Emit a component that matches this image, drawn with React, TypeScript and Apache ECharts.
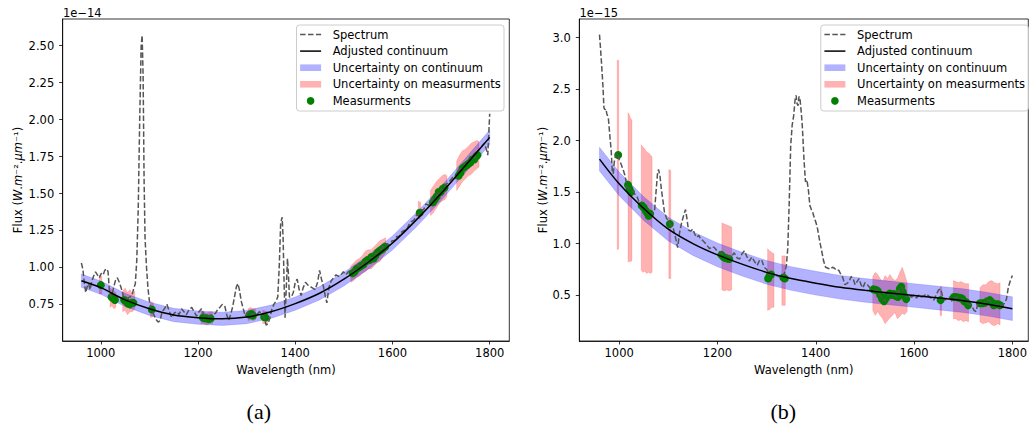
import React, { useEffect, useRef } from "react";
import * as echarts from "echarts";

// ---------- Panel (a) data (flux in units of 1e-14) ----------
const specA: [number, number][] = [
  [960, 1.03], [963, 0.99], [966, 0.9], [969, 0.83], [972, 0.87], [975, 0.89], [978, 0.85], [981, 0.9], [985, 0.94], [989, 0.97],
  [993, 0.95], [997, 0.93], [1001, 0.96], [1005, 0.95], [1008, 0.98], [1012, 0.99], [1015, 0.97], [1018, 0.82], [1022, 0.8], [1026, 0.86],
  [1030, 0.91], [1034, 0.93], [1038, 0.9], [1042, 0.86], [1046, 0.81], [1050, 0.79], [1055, 0.79], [1060, 0.8], [1064, 0.81], [1068, 0.86],
  [1071, 0.89], [1074, 1.05], [1077, 1.4], [1080, 2.0], [1083, 2.5], [1085, 2.57], [1087, 2.3], [1089, 1.6], [1091, 1.2], [1094, 1.0],
  [1097, 0.86], [1100, 0.77], [1104, 0.72], [1108, 0.69], [1113, 0.65], [1118, 0.63], [1122, 0.64], [1126, 0.7], [1131, 0.72], [1136, 0.75],
  [1141, 0.7], [1146, 0.66], [1151, 0.69], [1156, 0.7], [1161, 0.68], [1166, 0.72], [1171, 0.7], [1176, 0.68], [1181, 0.71], [1187, 0.73],
  [1192, 0.7], [1197, 0.67], [1202, 0.7], [1207, 0.72], [1212, 0.68], [1218, 0.66], [1224, 0.67], [1230, 0.68], [1236, 0.69], [1241, 0.72],
  [1245, 0.73], [1250, 0.75], [1255, 0.74], [1259, 0.68], [1263, 0.64], [1267, 0.68], [1271, 0.73], [1275, 0.8], [1279, 0.87], [1282, 0.89],
  [1285, 0.85], [1289, 0.77], [1293, 0.72], [1297, 0.67], [1301, 0.69], [1306, 0.7], [1311, 0.68], [1316, 0.69], [1321, 0.68], [1326, 0.7],
  [1331, 0.69], [1336, 0.66], [1340, 0.61], [1344, 0.62], [1348, 0.66], [1352, 0.72], [1356, 0.75], [1360, 0.77], [1364, 0.8], [1367, 1.0],
  [1370, 1.3], [1373, 1.34], [1375, 1.2], [1377, 0.9], [1379, 0.66], [1382, 0.9], [1384, 1.06], [1386, 0.95], [1388, 0.8], [1392, 0.8],
  [1396, 0.83], [1400, 0.9], [1404, 0.92], [1408, 0.85], [1412, 0.81], [1416, 0.86], [1421, 0.9], [1426, 0.88], [1431, 0.87], [1436, 0.86],
  [1441, 0.85], [1446, 0.9], [1450, 0.98], [1454, 0.92], [1458, 0.87], [1462, 0.8], [1465, 0.76], [1469, 0.86], [1474, 0.91], [1479, 0.93],
  [1484, 0.95], [1489, 0.94], [1494, 0.95], [1499, 0.97], [1504, 0.95], [1509, 0.97], [1514, 0.98], [1519, 0.97], [1524, 0.99], [1529, 1.02],
  [1534, 1.0], [1539, 1.03], [1544, 1.05], [1549, 1.03], [1554, 1.07], [1559, 1.06], [1564, 1.09], [1569, 1.1], [1574, 1.12], [1579, 1.13],
  [1584, 1.15], [1589, 1.16], [1594, 1.15], [1599, 1.18], [1604, 1.18], [1609, 1.21], [1614, 1.21], [1619, 1.24], [1624, 1.25], [1629, 1.25],
  [1634, 1.29], [1639, 1.31], [1644, 1.32], [1649, 1.35], [1654, 1.36], [1659, 1.39], [1664, 1.39], [1669, 1.43], [1674, 1.42], [1679, 1.45],
  [1684, 1.47], [1689, 1.48], [1694, 1.5], [1699, 1.53], [1704, 1.52], [1709, 1.56], [1714, 1.57], [1719, 1.59], [1724, 1.61], [1729, 1.6],
  [1734, 1.64], [1739, 1.67], [1744, 1.66], [1749, 1.7], [1754, 1.71], [1759, 1.73], [1764, 1.75], [1769, 1.74], [1774, 1.78], [1779, 1.8],
  [1784, 1.82], [1789, 1.84], [1793, 1.8], [1796, 1.76], [1798, 1.9], [1800, 2.04],
];

const contWl = [960, 1000, 1050, 1100, 1150, 1200, 1250, 1300, 1350, 1400, 1450, 1500, 1550, 1600, 1650, 1700, 1750, 1800];
const contA = [0.91, 0.863, 0.78, 0.72, 0.678, 0.66, 0.652, 0.664, 0.7, 0.755, 0.825, 0.92, 1.035, 1.165, 1.325, 1.5, 1.69, 1.88];
const contALow = [0.865, 0.818, 0.735, 0.675, 0.633, 0.615, 0.607, 0.619, 0.655, 0.71, 0.78, 0.874, 0.988, 1.117, 1.277, 1.452, 1.642, 1.83];
const contAHigh = [0.955, 0.908, 0.825, 0.765, 0.723, 0.705, 0.697, 0.709, 0.745, 0.8, 0.87, 0.966, 1.082, 1.213, 1.373, 1.548, 1.738, 1.93];

const measA: [number, number][] = [
  [1000, 0.88], [1022, 0.8], [1026, 0.79], [1029, 0.78], [1048, 0.78], [1052, 0.77], [1056, 0.755], [1060, 0.75], [1064, 0.76], [1067, 0.76],
  [1105, 0.715], [1210, 0.66], [1214, 0.655], [1218, 0.655], [1222, 0.65], [1226, 0.655], [1306, 0.68], [1310, 0.685], [1313, 0.675],
  [1336, 0.665], [1339, 0.66], [1518, 0.96], [1522, 0.97], [1526, 0.99], [1531, 1.0], [1535, 1.01], [1540, 1.02], [1545, 1.04], [1549, 1.05],
  [1553, 1.05], [1557, 1.07], [1561, 1.06], [1565, 1.08], [1569, 1.1], [1573, 1.11], [1577, 1.12], [1581, 1.13], [1585, 1.14], [1656, 1.37],
  [1683, 1.44], [1687, 1.46], [1691, 1.48], [1695, 1.51], [1699, 1.51], [1703, 1.53], [1707, 1.54], [1736, 1.62], [1740, 1.64], [1744, 1.67],
  [1748, 1.68], [1752, 1.69], [1756, 1.7], [1760, 1.71], [1764, 1.73], [1768, 1.73], [1772, 1.75], [1775, 1.76],
];

const errAWl = [
  [997, 1002], [1019, 1023, 1027, 1031], [1045, 1050, 1055, 1060, 1065, 1070], [1102, 1108], [1206, 1212, 1218, 1224, 1230],
  [1303, 1308, 1313, 1318], [1333, 1343],
  [1514, 1520, 1526, 1532, 1538, 1544, 1550, 1556, 1562, 1568, 1574, 1580, 1586], [1653, 1658],
  [1678, 1684, 1690, 1696, 1702, 1708, 1712], [1732, 1738, 1744, 1750, 1756, 1762, 1768, 1774, 1778],
];
const errALow = [
  [0.82, 0.82], [0.73, 0.74, 0.72, 0.73], [0.7, 0.71, 0.68, 0.7, 0.7, 0.72], [0.66, 0.67], [0.62, 0.62, 0.61, 0.62, 0.62],
  [0.64, 0.645, 0.64, 0.645], [0.62, 0.62],
  [0.9, 0.91, 0.93, 0.94, 0.96, 0.97, 0.99, 0.99, 1.01, 1.03, 1.04, 1.07, 1.1], [1.33, 1.33],
  [1.35, 1.37, 1.4, 1.43, 1.45, 1.46, 1.48], [1.52, 1.55, 1.58, 1.6, 1.62, 1.63, 1.65, 1.67, 1.68],
];
const errAHigh = [
  [0.95, 0.94], [0.86, 0.85, 0.84, 0.83], [0.84, 0.86, 0.83, 0.85, 0.82, 0.84], [0.77, 0.76], [0.71, 0.7, 0.69, 0.7, 0.7],
  [0.72, 0.73, 0.72, 0.72], [0.71, 0.7],
  [1.01, 1.03, 1.05, 1.06, 1.08, 1.11, 1.12, 1.12, 1.14, 1.16, 1.18, 1.19, 1.2], [1.45, 1.44],
  [1.52, 1.55, 1.58, 1.6, 1.62, 1.63, 1.62], [1.72, 1.76, 1.79, 1.8, 1.82, 1.84, 1.85, 1.86, 1.85],
];

// ---------- Panel (b) data (flux in units of 1e-15) ----------
const specB: [number, number][] = [
  [960, 3.03], [962, 2.9], [964, 2.76], [967, 2.53], [969, 2.32], [971, 2.3], [973, 2.31], [975, 2.26], [978, 2.22], [981, 2.05],
  [984, 1.89], [986, 1.7], [988, 1.68], [990, 1.79], [993, 1.86], [996, 1.88], [1000, 1.82], [1004, 1.77], [1008, 1.72], [1012, 1.66],
  [1016, 1.55], [1020, 1.54], [1024, 1.52], [1028, 1.51], [1032, 1.48], [1036, 1.46], [1040, 1.41], [1044, 1.37], [1048, 1.36], [1052, 1.35],
  [1056, 1.31], [1060, 1.28], [1064, 1.27], [1068, 1.3], [1072, 1.32], [1075, 1.5], [1078, 1.68], [1080, 1.72], [1083, 1.66], [1086, 1.52],
  [1089, 1.42], [1092, 1.31], [1096, 1.25], [1100, 1.22], [1105, 1.18], [1110, 1.15], [1115, 1.05], [1119, 0.96], [1123, 1.11], [1127, 1.2],
  [1131, 1.27], [1135, 1.33], [1138, 1.24], [1141, 1.13], [1145, 1.12], [1150, 1.14], [1154, 1.09], [1158, 1.06], [1162, 1.08], [1166, 1.04],
  [1170, 1.03], [1174, 1.01], [1179, 0.98], [1184, 0.95], [1189, 0.97], [1194, 0.96], [1199, 0.93], [1204, 0.92], [1210, 0.9], [1216, 0.9],
  [1222, 0.88], [1228, 0.87], [1234, 0.91], [1240, 0.86], [1245, 0.85], [1250, 0.9], [1255, 0.93], [1260, 0.87], [1265, 0.83], [1270, 0.87],
  [1276, 0.82], [1281, 0.79], [1286, 0.84], [1290, 0.84], [1295, 0.77], [1300, 0.75], [1305, 0.7], [1310, 0.7], [1315, 0.71], [1320, 0.69],
  [1325, 0.68], [1330, 0.67], [1335, 0.69], [1340, 0.78], [1343, 0.95], [1346, 1.4], [1349, 1.95], [1352, 2.15], [1355, 2.24], [1358, 2.4],
  [1360, 2.44], [1362, 2.36], [1364, 2.34], [1366, 2.43], [1368, 2.4], [1371, 2.25], [1373, 2.11], [1376, 1.82], [1379, 1.6], [1382, 1.62],
  [1385, 1.52], [1388, 1.37], [1391, 1.33], [1394, 1.3], [1397, 1.25], [1400, 1.21], [1403, 1.16], [1406, 1.08], [1409, 1.0], [1412, 0.93],
  [1416, 0.83], [1420, 0.77], [1425, 0.76], [1430, 0.75], [1434, 0.77], [1438, 0.76], [1442, 0.74], [1447, 0.74], [1451, 0.7], [1455, 0.67],
  [1459, 0.6], [1463, 0.61], [1468, 0.63], [1472, 0.68], [1476, 0.66], [1480, 0.6], [1484, 0.63], [1488, 0.66], [1492, 0.6], [1496, 0.57],
  [1500, 0.62], [1505, 0.6], [1510, 0.57], [1515, 0.56], [1520, 0.54], [1525, 0.55], [1530, 0.5], [1535, 0.47], [1540, 0.44], [1545, 0.48],
  [1550, 0.52], [1555, 0.5], [1560, 0.5], [1565, 0.48], [1570, 0.55], [1575, 0.58], [1580, 0.5], [1585, 0.48], [1590, 0.49], [1595, 0.48],
  [1600, 0.5], [1605, 0.47], [1610, 0.5], [1615, 0.48], [1620, 0.49], [1625, 0.51], [1630, 0.49], [1635, 0.47], [1640, 0.45], [1645, 0.5],
  [1650, 0.55], [1654, 0.56], [1658, 0.49], [1663, 0.45], [1668, 0.48], [1672, 0.48], [1677, 0.44], [1682, 0.47], [1687, 0.48], [1692, 0.47],
  [1697, 0.46], [1702, 0.44], [1707, 0.42], [1712, 0.41], [1717, 0.4], [1722, 0.35], [1726, 0.34], [1730, 0.42], [1735, 0.41], [1740, 0.42],
  [1745, 0.43], [1750, 0.45], [1755, 0.44], [1760, 0.41], [1765, 0.4], [1770, 0.41], [1775, 0.4], [1780, 0.4], [1784, 0.42], [1788, 0.46],
  [1792, 0.58], [1796, 0.64], [1800, 0.69],
];

const contB = [1.82, 1.58, 1.34, 1.14, 1.0, 0.89, 0.8, 0.72, 0.66, 0.615, 0.575, 0.545, 0.52, 0.495, 0.47, 0.445, 0.41, 0.367];
const contBLow = [1.705, 1.465, 1.225, 1.025, 0.885, 0.775, 0.685, 0.605, 0.545, 0.5, 0.46, 0.43, 0.405, 0.38, 0.355, 0.33, 0.295, 0.252];
const contBHigh = [1.935, 1.695, 1.455, 1.255, 1.115, 1.005, 0.915, 0.835, 0.775, 0.73, 0.69, 0.66, 0.635, 0.61, 0.585, 0.56, 0.525, 0.482];

const measB: [number, number][] = [
  [998, 1.86], [1018, 1.57], [1021, 1.53], [1024, 1.5], [1046, 1.37], [1050, 1.35], [1054, 1.32], [1057, 1.3], [1060, 1.27], [1063, 1.29],
  [1103, 1.19], [1208, 0.89], [1212, 0.87], [1216, 0.86], [1220, 0.855], [1224, 0.85], [1303, 0.66], [1306, 0.69], [1309, 0.7],
  [1334, 0.67], [1337, 0.66], [1517, 0.555], [1522, 0.55], [1526, 0.54], [1531, 0.5], [1535, 0.46], [1539, 0.44], [1543, 0.47], [1547, 0.5],
  [1551, 0.515], [1555, 0.5], [1559, 0.51], [1563, 0.49], [1567, 0.48], [1571, 0.56], [1574, 0.58], [1577, 0.53], [1580, 0.49], [1584, 0.46],
  [1654, 0.45], [1681, 0.48], [1685, 0.48], [1690, 0.475], [1694, 0.47], [1698, 0.465], [1702, 0.44], [1706, 0.43], [1710, 0.4],
  [1734, 0.42], [1739, 0.42], [1744, 0.425], [1749, 0.44], [1754, 0.45], [1758, 0.43], [1762, 0.4], [1767, 0.41], [1771, 0.41], [1775, 0.4],
];

const errBWl = [
  [996, 999], [1018, 1020, 1022, 1024, 1026], [1045, 1048, 1052, 1056, 1060, 1064, 1067], [1101, 1105], [1209, 1214, 1219, 1224, 1229],
  [1302, 1306, 1311, 1315], [1331, 1338],
  [1516, 1521, 1526, 1531, 1536, 1541, 1546, 1551, 1556, 1561, 1566, 1571, 1576, 1581, 1586], [1653, 1656],
  [1680, 1685, 1690, 1695, 1700, 1705, 1711], [1734, 1740, 1746, 1752, 1758, 1764, 1770, 1775],
];
const errBLow = [
  [0.94, 0.95], [0.82, 0.83, 0.82, 0.83, 0.83], [0.74, 0.72, 0.73, 0.71, 0.72, 0.71, 0.72], [0.66, 0.66], [0.55, 0.54, 0.55, 0.54, 0.55],
  [0.35, 0.36, 0.38, 0.38], [0.4, 0.4],
  [0.35, 0.3, 0.34, 0.3, 0.27, 0.22, 0.25, 0.28, 0.3, 0.33, 0.27, 0.29, 0.32, 0.31, 0.34], [0.3, 0.3],
  [0.27, 0.27, 0.25, 0.26, 0.24, 0.25, 0.24], [0.24, 0.22, 0.23, 0.24, 0.21, 0.2, 0.22, 0.21],
];
const errBHigh = [
  [2.78, 2.78], [2.27, 2.26, 2.23, 2.21, 2.2], [1.96, 1.94, 1.92, 1.89, 1.88, 1.86, 1.84], [1.72, 1.71], [1.2, 1.19, 1.18, 1.17, 1.16],
  [0.95, 0.93, 0.91, 0.9], [0.88, 0.88],
  [0.68, 0.72, 0.7, 0.66, 0.63, 0.69, 0.66, 0.7, 0.66, 0.64, 0.66, 0.72, 0.77, 0.7, 0.62], [0.58, 0.58],
  [0.64, 0.63, 0.62, 0.63, 0.62, 0.61, 0.61], [0.57, 0.6, 0.6, 0.63, 0.64, 0.62, 0.61, 0.62],
];

// ---------- Ticks ----------
const xTicks = [1000, 1200, 1400, 1600, 1800];
const yTicksA = [0.75, 1.0, 1.25, 1.5, 1.75, 2.0, 2.25, 2.5];
const yTicksB = [0.5, 1.0, 1.5, 2.0, 2.5, 3.0];

const legendNames = ["Spectrum", "Adjusted continuum", "Uncertainty on continuum", "Uncertainty on measurments", "Measurments"];

const FONT = "DejaVu Sans";
const FS = 11.5;
const SPEC_COLOR = "#555555";
const BLUE = "rgba(0,0,255,0.3)";
const RED = "rgba(255,0,0,0.3)";
const GREEN = "#008000";

function mkX(gi: number, min: number, max: number) {
  return {
    type: "value", gridIndex: gi, min, max,
    axisLine: { show: true, onZero: false, lineStyle: { color: "#000", width: 0.8 } },
    axisTick: { show: true, length: 3.5, customValues: xTicks, lineStyle: { color: "#000", width: 0.8 } },
    axisLabel: {
      show: true, customValues: xTicks, color: "#000", fontSize: FS, fontFamily: FONT, margin: 6,
      formatter: (v: number) => String(Math.round(v)),
    },
    splitLine: { show: false },
    name: "Wavelength (nm)", nameLocation: "middle", nameGap: 21.5,
    nameTextStyle: { color: "#000", fontSize: FS, fontFamily: FONT },
  };
}

function mkY(gi: number, min: number, max: number, ticks: number[], dec: number, gap: number) {
  return {
    type: "value", gridIndex: gi, min, max,
    axisLine: { show: true, onZero: false, lineStyle: { color: "#000", width: 0.8 } },
    axisTick: { show: true, length: 3.5, customValues: ticks, lineStyle: { color: "#000", width: 0.8 } },
    axisLabel: {
      show: true, customValues: ticks, color: "#000", fontSize: FS, fontFamily: FONT, margin: 8.5,
      formatter: (v: number) => v.toFixed(dec),
    },
    splitLine: { show: false },
    name: "{n|Flux (}{i|W}{n|.}{i|m}{n|⁻².}{i|µm}{n|⁻¹)}",
    nameLocation: "middle", nameGap: gap, nameRotate: 90,
    nameTextStyle: {
      color: "#000", fontSize: FS, fontFamily: FONT,
      rich: {
        n: { fontSize: FS, fontFamily: FONT, color: "#000" },
        i: { fontSize: FS, fontFamily: FONT, fontStyle: "italic", color: "#000" },
      },
    },
  };
}

function bandSeries(gi: number, wls: number[][], lows: number[][], highs: number[][], color: string, z: number, name: string) {
  return {
    type: "custom", name, xAxisIndex: gi, yAxisIndex: gi, coordinateSystem: "cartesian2d", z, silent: true,
    encode: { x: 0, y: 1 },
    data: wls.map((w, k) => [w[0], lows[k][0], k]),
    renderItem: (_p: any, api: any) => {
      const k = api.value(2);
      const w = wls[k], lo = lows[k], hi = highs[k];
      const pts: number[][] = [];
      for (let i = 0; i < w.length; i++) pts.push(api.coord([w[i], hi[i]]));
      for (let i = w.length - 1; i >= 0; i--) pts.push(api.coord([w[i], lo[i]]));
      return { type: "polygon", shape: { points: pts }, style: { fill: color, stroke: color, lineWidth: 0.5 } };
    },
  };
}

function panelSeries(gi: number, spec: [number, number][], cont: number[], low: number[], high: number[],
  meas: [number, number][], ew: number[][], el: number[][], eh: number[][]) {
  return [
    bandSeries(gi, ew, el, eh, RED, 1, legendNames[3]),
    bandSeries(gi, [contWl], [low], [high], BLUE, 2, legendNames[2]),
    {
      type: "scatter", name: legendNames[4], xAxisIndex: gi, yAxisIndex: gi, z: 3, silent: true,
      data: meas, symbol: "circle", symbolSize: 8, itemStyle: { color: GREEN, opacity: 1 },
    },
    {
      type: "line", name: legendNames[0], xAxisIndex: gi, yAxisIndex: gi, z: 4, silent: true,
      data: spec, showSymbol: false, symbol: "none",
      lineStyle: { color: SPEC_COLOR, width: 1.5, type: [5.5, 2.4] },
    },
    {
      type: "line", name: legendNames[1], xAxisIndex: gi, yAxisIndex: gi, z: 5, silent: true,
      data: contWl.map((w, i) => [w, cont[i]]), showSymbol: false, symbol: "none", smooth: 0.3,
      lineStyle: { color: "#000", width: 1.5 },
    },
  ];
}

function txt(x: number, y: number, text: string, font: string, align = "left", valign = "middle") {
  return {
    type: "text", x, y, z: 101, silent: true,
    style: { text, font, fill: "#000", textAlign: align, align, textVerticalAlign: valign, verticalAlign: valign },
  };
}

function legendGraphic(ox: number) {
  const rows = [34.5, 51.1, 67.7, 84.3, 100.9];
  const hx = ox + 3.6;
  const tx = ox + 36.2;
  const els: any[] = [
    {
      type: "rect", z: 100, silent: true,
      shape: { x: ox, y: 25, width: 207.5, height: 86, r: 3 },
      style: { fill: "rgba(255,255,255,0.8)", stroke: "#cccccc", lineWidth: 1 },
    },
    { type: "line", z: 101, silent: true, shape: { x1: hx, y1: rows[0], x2: hx + 21, y2: rows[0] }, style: { stroke: SPEC_COLOR, lineWidth: 1.5, lineDash: [5.5, 2.4] } },
    { type: "line", z: 101, silent: true, shape: { x1: hx, y1: rows[1], x2: hx + 21, y2: rows[1] }, style: { stroke: "#000", lineWidth: 1.5 } },
    { type: "rect", z: 101, silent: true, shape: { x: hx, y: rows[2] - 3.3, width: 21, height: 6.6 }, style: { fill: BLUE } },
    { type: "rect", z: 101, silent: true, shape: { x: hx, y: rows[3] - 3.3, width: 21, height: 6.6 }, style: { fill: RED } },
    { type: "circle", z: 101, silent: true, shape: { cx: hx + 10.5, cy: rows[4], r: 3.8 }, style: { fill: GREEN } },
  ];
  legendNames.forEach((n, i) => els.push(txt(tx, rows[i], n, `${FS}px "${FONT}"`)));
  return els;
}

export default function App() {
  const ref = useRef<HTMLDivElement>(null);
  useEffect(() => {
    if (!ref.current) return;
    const chart = echarts.init(ref.current, null, { renderer: "svg" });
    const option: any = {
      animation: false,
      backgroundColor: "#fff",
      grid: [
        { left: 62.7, top: 19, width: 446.6, height: 322, show: true, borderColor: "#000", borderWidth: 0.8, backgroundColor: "transparent" },
        { left: 579.3, top: 19, width: 450.7, height: 322, show: true, borderColor: "#000", borderWidth: 0.8, backgroundColor: "transparent" },
      ],
      xAxis: [mkX(0, 921.6, 1840.3), mkX(1, 918.9, 1832.4)],
      yAxis: [mkY(0, 0.502, 2.681, yTicksA, 2, 38.7), mkY(1, 0.053, 3.182, yTicksB, 1, 30.6)],
      series: [
        ...panelSeries(0, specA, contA, contALow, contAHigh, measA, errAWl, errALow, errAHigh),
        ...panelSeries(1, specB, contB, contBLow, contBHigh, measB, errBWl, errBLow, errBHigh),
      ],
      graphic: [
        txt(63, 12.5, "1e−14", `${FS}px "${FONT}"`),
        txt(579.5, 12.5, "1e−15", `${FS}px "${FONT}"`),
        txt(258.8, 411.5, "(a)", `22px "Liberation Serif"`, "center"),
        txt(783.3, 411.5, "(b)", `22px "Liberation Serif"`, "center"),
        ...legendGraphic(296.5),
        ...legendGraphic(820.8),
      ],
    };
    chart.setOption(option);
    return () => chart.dispose();
  }, []);
  return (
    <div
      ref={ref}
      style={{ position: "absolute", left: 0, top: 0, width: 1030, height: 427, background: "#fff" }}
    />
  );
}
